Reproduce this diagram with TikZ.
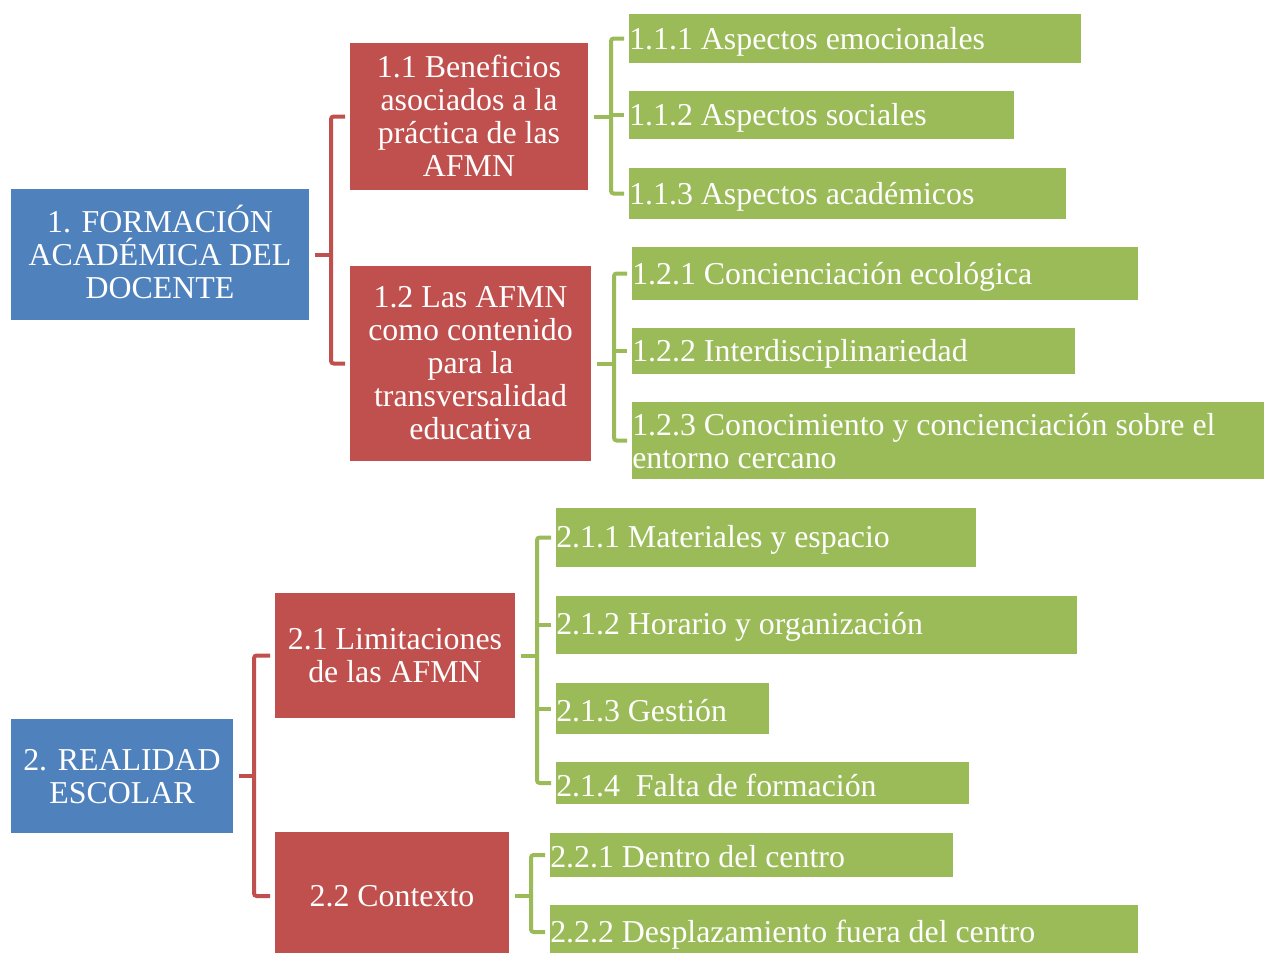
\documentclass[tikz,border=0pt]{standalone}
\usepackage{fontspec}
\setmainfont{Liberation Serif}
\usetikzlibrary{fit,calc}
\definecolor{cblue}{HTML}{4F81BD}
\definecolor{cred}{HTML}{C0504D}
\definecolor{cgreen}{HTML}{9BBB59}
\begin{document}
\begin{tikzpicture}[x=0.75pt,y=-0.75pt,
 box/.style={inner sep=0pt, outer sep=0pt},
 bluebox/.style={box, fill=cblue},
 redbox/.style={box, fill=cred},
 greenbox/.style={box, fill=cgreen},
 ctext/.style={text=white, align=center, inner sep=0pt, font=\fontsize{23.9pt}{24.75pt}\selectfont},
 ltext/.style={text=white, align=left, anchor=west, inner xsep=0pt, inner ysep=0pt, font=\fontsize{23.9pt}{24.75pt}\selectfont},
 redline/.style={draw=cred, line width=3pt, rounded corners=2pt},
 greenline/.style={draw=cgreen, line width=3pt, rounded corners=2pt}]
\useasboundingbox (0,0) rectangle (1264,953);

% level 1
\node[bluebox, fit={(11,189)(309,320)}] (b1) {};
\node[ctext] (tb1) at ($(b1.center)+(0,-3)$) {1. FORMACIÓN\\ACADÉMICA DEL\\DOCENTE};
\node[bluebox, fit={(11,719)(233,833)}] (b2) {};
\node[ctext] (tb2) at ($(b2.center)+(0,0.5)$) {2. REALIDAD\\ESCOLAR};

% level 2
\node[redbox, fit={(350,43)(588,190)}] (r11) {};
\node[ctext] (tr11) at ($(r11.center)+(0,-1)$) {1.1 Beneficios\\asociados a la\\práctica de las\\AFMN};
\node[redbox, fit={(350,266)(591,461)}] (r12) {};
\node[ctext] (tr12) at (r12.center) {1.2 Las AFMN\\como contenido\\para la\\transversalidad\\educativa};
\node[redbox, fit={(275,593)(515,718)}] (r21) {};
\node[ctext] (tr21) at (r21.center) {2.1 Limitaciones\\de las AFMN};
\node[redbox, fit={(275,832)(509,960)}] (r22) {};
\node[ctext] (tr22) at (r22.center) {2.2 Contexto};

% level 3
\node[greenbox, fit={(629,14)(1081,63)}] (g111) {};
\node[ltext] (t111) at ($(g111.west)+(0,3)$) {1.1.1 Aspectos emocionales};
\node[greenbox, fit={(629,91)(1014,139)}] (g112) {};
\node[ltext] (t112) at ($(g112.west)+(0,3)$) {1.1.2 Aspectos sociales};
\node[greenbox, fit={(629,168)(1066,219)}] (g113) {};
\node[ltext] (t113) at ($(g113.west)+(0,3)$) {1.1.3 Aspectos académicos};

\node[greenbox, fit={(632,247)(1138,300)}] (g121) {};
\node[ltext] (t121) at ($(g121.west)+(0,3)$) {1.2.1 Concienciación ecológica};
\node[greenbox, fit={(632,328)(1075,374)}] (g122) {};
\node[ltext] (t122) at ($(g122.west)+(0,3)$) {1.2.2 Interdisciplinariedad};
\node[greenbox, fit={(632,402)(1264,479)}] (g123) {};
\node[ltext] (t123) at ($(g123.west)+(0,1)$) {1.2.3 Conocimiento y concienciación sobre el\\entorno cercano};

\node[greenbox, fit={(556,508)(976,567)}] (g211) {};
\node[ltext] (t211) at ($(g211.west)+(0,2)$) {2.1.1 Materiales y espacio};
\node[greenbox, fit={(556,596)(1077,654)}] (g212) {};
\node[ltext] (t212) at ($(g212.west)+(0,2)$) {2.1.2 Horario y organización};
\node[greenbox, fit={(556,683)(769,734)}] (g213) {};
\node[ltext] (t213) at ($(g213.west)+(0,2)$) {2.1.3 Gestión};
\node[greenbox, fit={(556,762)(969,804)}] (g214) {};
\node[ltext] (t214) at ($(g214.west)+(0,2)$) {2.1.4~~Falta de formación};

\node[greenbox, fit={(550,833)(953,877)}] (g221) {};
\node[ltext] (t221) at ($(g221.west)+(0,2)$) {2.2.1 Dentro del centro};
\node[greenbox, fit={(550,905)(1138,959)}] (g222) {};
\node[ltext] (t222) at ($(g222.west)+(0,3)$) {2.2.2 Desplazamiento fuera del centro};

% brackets
\coordinate (v1) at ($(b1.east)+(22,0)$);
\draw[redline] ($(r11.west)+(-5,0)$) -| (v1) |- ($(r12.west)+(-5,0)$);
\draw[redline] ($(b1.east)+(6,0)$) -- (v1);

\coordinate (v2) at ($(b2.east)+(21,0)$);
\draw[redline] ($(r21.west)+(-5,0)$) -| (v2) |- ($(r22.west)+(-5,0)$);
\draw[redline] ($(b2.east)+(6,0)$) -- (v2);

\coordinate (v11) at ($(r11.east)+(23,0)$);
\draw[greenline] ($(g111.west)+(-5,0)$) -| (v11) |- ($(g113.west)+(-5,0)$);
\draw[greenline] ($(r11.east)+(6,0)$) -- (v11);
\draw[greenline] ($(g112.west)+(-5,0)$) -- (v11 |- g112.west);

\coordinate (v12) at ($(r12.east)+(23,0)$);
\draw[greenline] ($(g121.west)+(-5,0)$) -| (v12) |- ($(g123.west)+(-5,0)$);
\draw[greenline] ($(r12.east)+(6,0)$) -- (v12);
\draw[greenline] ($(g122.west)+(-5,0)$) -- (v12 |- g122.west);

\coordinate (v21) at ($(r21.east)+(22,0)$);
\draw[greenline] ($(g211.west)+(-5,0)$) -| (v21) |- ($(g214.west)+(-5,0)$);
\draw[greenline] ($(r21.east)+(6,0)$) -- (v21);
\draw[greenline] ($(g212.west)+(-5,0)$) -- (v21 |- g212.west);
\draw[greenline] ($(g213.west)+(-5,0)$) -- (v21 |- g213.west);

\coordinate (v22) at ($(r22.east)+(22,0)$);
\draw[greenline] ($(g221.west)+(-5,0)$) -| (v22) |- ($(g222.west)+(-5,0)$);
\draw[greenline] ($(r22.east)+(6,0)$) -- (v22);
\end{tikzpicture}
\end{document}
